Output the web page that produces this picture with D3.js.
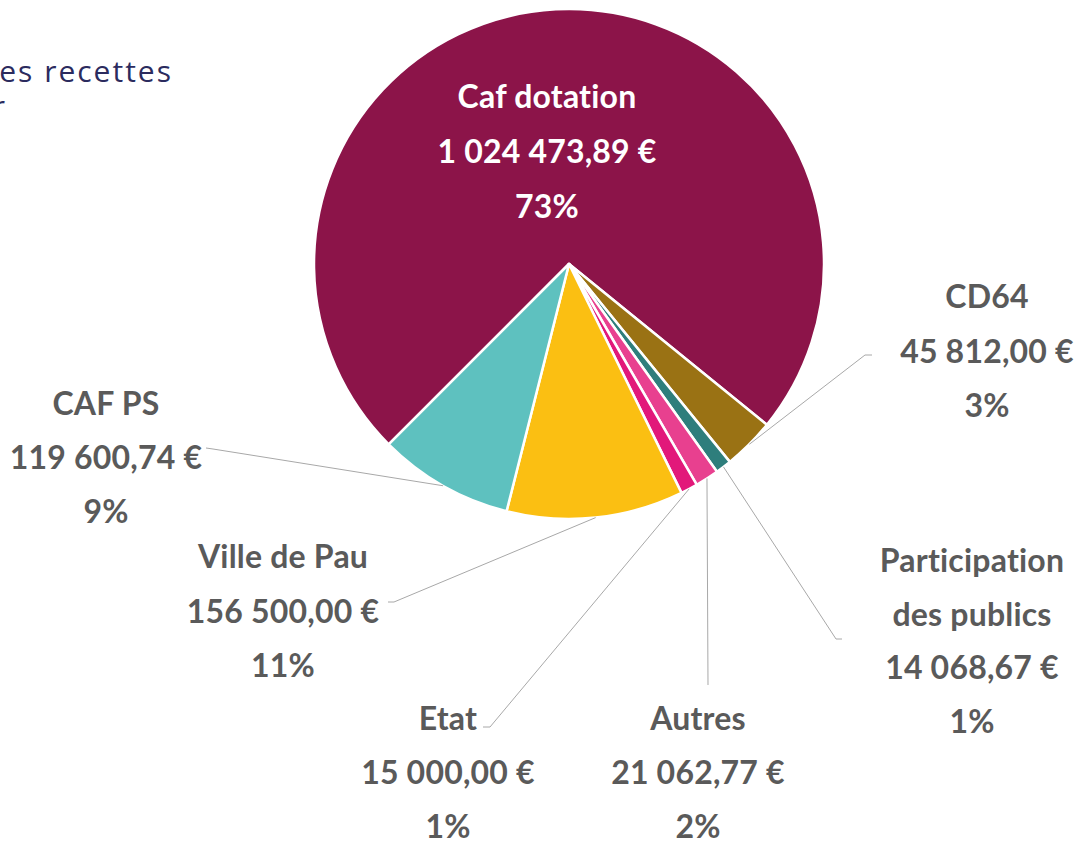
<!DOCTYPE html>
<html>
<head>
<meta charset="utf-8">
<style>
body { margin: 0; background: #ffffff; }
svg text { font-family: "Lato", "Open Sans", sans-serif; }
.lbl { font-weight: 700; font-size: 32px; fill: #5a5a5a; text-anchor: middle; letter-spacing: 0.2px; }
.title { font-family: "Open Sans", sans-serif; font-size: 30px; fill: #2b2b5e; letter-spacing: 2px; text-anchor: end; }
</style>
</head>
<body>
<div id="chart"></div>
<script src="https://cdn.jsdelivr.net/npm/d3@7"></script>
<script>
// values
var names = ["Caf dotation", "CD64", "Participation des publics", "Autres", "Etat", "Ville de Pau", "CAF PS"];
var amounts = [1024473.89, 45812.00, 14068.67, 21062.77, 15000.00, 156500.00, 119600.74];
var colors = ["#8c1449", "#9a7214", "#2e7e7c", "#e8408f", "#e2187a", "#fbbf12", "#5ec1bf"];
var nameLines = [["Caf dotation"], ["CD64"], ["Participation", "des publics"], ["Autres"], ["Etat"], ["Ville de Pau"], ["CAF PS"]];

// label layout (centre x, first baseline, line step) and leader elbows
var labelAt = [
    {x: 547, y: 108, step: 55, inside: true},
    {x: 987, y: 308, step: 54.5, elbow: [865, 355], end: [872, 355]},
    {x: 972, y: 572, step: 53.5, elbow: [836, 639], end: [842, 639]},
    {x: 698, y: 730, step: 54, elbow: [708, 685], end: [708, 685]},
    {x: 448, y: 730, step: 54, elbow: [490, 727], end: [483, 727]},
    {x: 283, y: 568, step: 54.5, elbow: [394, 602], end: [388, 602]},
    {x: 106, y: 415, step: 54, elbow: [213, 449], end: [206, 448]}
];

var W = 1091, H = 841;
var cx = 569, cy = 264, R = 255;

var svg = d3.select("#chart").append("svg")
    .attr("width", W)
    .attr("height", H);

// title, cut off at the left edge like in the source
svg.append("text").attr("class", "title")
    .attr("x", 173).attr("y", 82)
    .text("Répartition des recettes");
svg.append("text").attr("class", "title")
    .attr("x", 7).attr("y", 117)
    .text("par financeur");

var fr = d3.formatLocale({decimal: ",", thousands: "\u00a0", grouping: [3], currency: ["", "\u00a0€"]});
var money = fr.format(",.2f");
var total = d3.sum(amounts);

var data = names.map(function (n, i) {
    return {name: n, value: amounts[i], color: colors[i], lines: nameLines[i], pos: labelAt[i]};
});

var pie = d3.pie()
    .sort(null)
    .value(function (d) { return d.value; })
    .startAngle(-135 * Math.PI / 180)
    .endAngle(225 * Math.PI / 180);

var arc = d3.arc().innerRadius(0).outerRadius(R);
var arcs = pie(data);

var g = svg.append("g").attr("transform", "translate(" + cx + "," + cy + ")");

g.selectAll("path")
    .data(arcs)
    .enter()
    .append("path")
    .attr("d", arc)
    .attr("fill", function (d) { return d.data.color; })
    .attr("stroke", "#ffffff")
    .attr("stroke-width", 2.5)
    .attr("stroke-linejoin", "round");

// leader lines from the middle of each outer arc
arcs.forEach(function (a) {
    var p = a.data.pos;
    if (p.inside) return;
    var mid = (a.startAngle + a.endAngle) / 2;
    var x0 = cx + R * Math.sin(mid), y0 = cy - R * Math.cos(mid);
    svg.append("polyline")
        .attr("points", [[x0, y0], p.elbow, p.end].map(function (q) { return q.join(","); }).join(" "))
        .attr("fill", "none")
        .attr("stroke", "#a8a8a8")
        .attr("stroke-width", 1);
});

// labels
arcs.forEach(function (a) {
    var d = a.data, p = d.pos;
    var rows = d.lines.concat([money(d.value) + "\u00a0€", Math.round(d.value / total * 100) + "%"]);
    var t = svg.append("text")
        .attr("class", "lbl")
        .style("fill", p.inside ? "#ffffff" : null);
    rows.forEach(function (r, i) {
        t.append("tspan")
            .attr("x", p.x)
            .attr("y", p.y + i * p.step)
            .text(r);
    });
});
</script>
</body>
</html>
